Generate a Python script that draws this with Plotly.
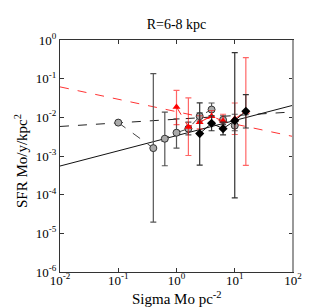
import plotly.graph_objects as go

# Gray circles (dashed connection)
gx = [0.1, 0.4, 0.63, 1.0, 1.6, 2.5, 4.0, 6.3, 10.0]
gy = [0.0073, 0.0016, 0.0028, 0.0040, 0.0051, 0.0107, 0.0159, 0.0086, 0.0061]
g_hi = [0.0073, 0.135, 0.0136, 0.0091, 0.0075, 0.013, 0.0235, 0.011, 0.012]
g_lo = [0.0073, 1.95e-5, 5.6e-4, 0.0016, 0.0035, 0.008, 0.0107, 0.0065, 0.0045]

# Black diamonds (solid connection)
bx = [2.5, 4.0, 6.3, 10.0, 15.5]
by = [0.0038, 0.0070, 0.0051, 0.0082, 0.0144]
b_hi = [0.0236, 0.011, 0.0075, 0.47, 0.0386]
b_lo = [5.8e-4, 0.0045, 0.0035, 8.3e-5, 0.0053]

# Red triangles (dashed connection)
rx = [1.0, 1.6, 2.5, 4.0, 6.3, 10.0, 15.5]
ry = [0.0186, 0.00565, 0.0075, 0.0107, 0.008, 0.0092, 0.014]
r_hi = [0.050, 0.032, 0.011, 0.015, 0.012, 0.0235, 0.35]
r_lo = [0.0065, 0.00103, 0.005, 0.0075, 0.0055, 0.0036, 5.7e-4]

# Fit lines (end points at axis limits)
fit_x = [0.01, 100.0]
fit_red = [0.0613, 0.0032]
fit_dash = [0.0058, 0.0138]
fit_solid = [5.5e-4, 0.0205]

xtick_vals = [0.01, 0.1, 1, 10, 100]
xtick_text = ["10<sup>-2</sup>", "10<sup>-1</sup>", "10<sup>0</sup>", "10<sup>1</sup>", "10<sup>2</sup>"]
ytick_vals = [1e-6, 1e-5, 1e-4, 1e-3, 1e-2, 1e-1, 1]
ytick_text = ["10<sup>-6</sup>", "10<sup>-5</sup>", "10<sup>-4</sup>", "10<sup>-3</sup>",
              "10<sup>-2</sup>", "10<sup>-1</sup>", "10<sup>0</sup>"]

def err(y, hi, lo):
    return dict(type="data", symmetric=False,
                array=[h - v for h, v in zip(hi, y)],
                arrayminus=[v - l for l, v in zip(lo, y)])

fig = go.Figure()
fig.add_trace(go.Scatter(x=fit_x, y=fit_red, mode="lines",
                         line=dict(color="rgba(255,0,0,0.8)", width=1, dash="dash")))
fig.add_trace(go.Scatter(x=fit_x, y=fit_dash, mode="lines",
                         line=dict(color="#222", width=1, dash="dash")))
fig.add_trace(go.Scatter(x=fit_x, y=fit_solid, mode="lines",
                         line=dict(color="#111", width=1)))

e_g = err(gy, g_hi, g_lo)
e_g.update(color="#555", thickness=1.2, width=3)
fig.add_trace(go.Scatter(x=gx, y=gy, mode="lines+markers",
                         line=dict(color="#444", width=1, dash="dash"),
                         marker=dict(symbol="circle", size=7, color="#aaaaaa",
                                     line=dict(color="#333", width=1)),
                         error_y=e_g))

e_r = err(ry, r_hi, r_lo)
e_r.update(color="rgba(255,0,0,0.6)", thickness=1.2, width=3)
fig.add_trace(go.Scatter(x=rx, y=ry, mode="lines+markers",
                         line=dict(color="rgba(255,0,0,0.9)", width=1, dash="dash"),
                         marker=dict(symbol="triangle-up", size=7, color="red"),
                         error_y=e_r))

e_b = err(by, b_hi, b_lo)
e_b.update(color="#333", thickness=1.2, width=3)
fig.add_trace(go.Scatter(x=bx, y=by, mode="lines+markers",
                         line=dict(color="#111", width=1),
                         marker=dict(symbol="diamond", size=7, color="black"),
                         error_y=e_b))

font_fam = "Liberation Serif"
fig.update_layout(
    width=327, height=307, showlegend=False,
    margin=dict(l=52, r=42, t=32, b=43),
    paper_bgcolor="white", plot_bgcolor="white",
    title=dict(text="R=6-8 kpc", x=0.5, xref="paper", xanchor="center",
               y=1, yref="container", yanchor="top", pad=dict(t=11),
               font=dict(family=font_fam, size=14, color="black")),
    font=dict(family=font_fam, color="black"),
    xaxis=dict(type="log", range=[-2, 2], tickvals=xtick_vals, ticktext=xtick_text,
               ticks="inside", ticklen=4, tickcolor="#333", showgrid=False,
               zeroline=False, showline=True, linecolor="#333", linewidth=1, mirror="ticks",
               tickfont=dict(size=13, family=font_fam), ticklabelstandoff=-4),
    yaxis=dict(type="log", range=[-6, 0], tickvals=ytick_vals, ticktext=ytick_text,
               ticks="inside", ticklen=4, tickcolor="#333", showgrid=False,
               zeroline=False, showline=True, linecolor="#333", linewidth=1, mirror="ticks",
               tickfont=dict(size=13, family=font_fam)),
    annotations=[
        dict(text="Sigma Mo pc<sup>-2</sup>", xref="paper", yref="paper", x=0.5, y=-0.11,
             xanchor="center", yanchor="middle", showarrow=False,
             font=dict(size=15, family=font_fam, color="black")),
        dict(text="SFR Mo/y/kpc<sup>2</sup>", xref="paper", yref="paper", x=-0.17, y=0.48,
             xanchor="center", yanchor="middle", showarrow=False, textangle=-90,
             font=dict(size=15, family=font_fam, color="black")),
    ],
    shapes=[dict(type="line", xref="paper", yref="paper", x0=1, x1=1, y0=0, y1=1,
                 line=dict(color="#999", width=2))],
)

fig.write_html("out.html")
